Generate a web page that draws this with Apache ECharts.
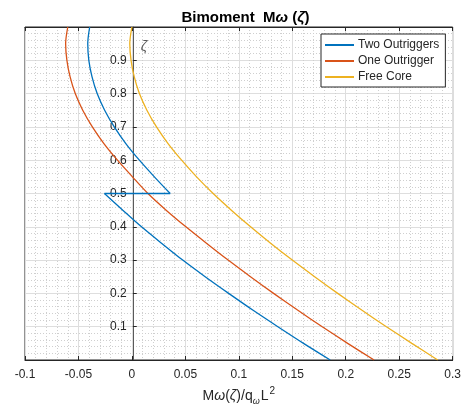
<!DOCTYPE html>
<html>
<head>
<meta charset="utf-8">
<script src="https://cdn.jsdelivr.net/npm/echarts@6/dist/echarts.min.js"></script>
<style>html,body{margin:0;padding:0;background:#fff;}#c{width:464px;height:412px;}</style>
</head>
<body>
<div id="c"></div>
<script>
// ---- data ----
const zetaAll   = [1.00,0.95,0.90,0.85,0.80,0.75,0.70,0.65,0.60,0.55,0.50,0.45,0.40,0.35,0.30,0.25,0.20,0.15,0.10,0.05,0.00];
const zetaUpper = [1.00,0.95,0.90,0.85,0.80,0.75,0.70,0.65,0.60,0.55,0.50];
const zetaLower = [0.50,0.45,0.40,0.35,0.30,0.25,0.20,0.15,0.10,0.05,0.00];
const twoOutriggersUpper = [-0.0395,-0.0413,-0.0403,-0.0373,-0.0325,-0.0255,-0.0165,-0.0057,0.0070,0.0210,0.0358];
const twoOutriggersLower = [-0.0257,-0.0085,0.0090,0.0280,0.0475,0.0685,0.0905,0.1130,0.1365,0.1605,0.1855];
const oneOutrigger = [-0.0600,-0.0620,-0.0608,-0.0578,-0.0530,-0.0460,-0.0370,-0.0262,-0.0135,0.0005,0.0150,0.0320,0.0505,0.0700,0.0900,0.1109,0.1325,0.1549,0.1780,0.2018,0.2265];
const freeCore = [0.0000,-0.0020,-0.0008,0.0022,0.0070,0.0140,0.0230,0.0338,0.0465,0.0605,0.0760,0.0930,0.1110,0.1300,0.1500,0.1709,0.1925,0.2149,0.2380,0.2618,0.2860];
const seriesNames = ['Two Outriggers','One Outrigger','Free Core'];
const xMin = -0.1, xMax = 0.3, xStep = 0.05;
const yMin = 0, yMax = 1, yStep = 0.1;
const zetaLabelPos = [0.0114, 0.941];

// ---- build ----
const pair = (xs, ys) => xs.map((v, i) => [v, ys[i]]);
const blueUpper = pair(twoOutriggersUpper, zetaUpper);
const blueLower = pair(twoOutriggersLower, zetaLower);
const blueJump = [blueUpper[blueUpper.length - 1], blueLower[0]];
const orangeData = pair(oneOutrigger, zetaAll);
const yellowData = pair(freeCore, zetaAll);

const FONT = '"Liberation Sans", Arial, Helvetica, sans-serif';
const dark = '#262626';
const major = '#dedede';
const minor = '#cfcfcf';
const BLUE = '#0072BD', ORANGE = '#D95319', YELLOW = '#EDB120';

const gridLeft = 25, gridTop = 27, gridW = 431, gridH = 333;
// y axis sits at x = 0 (MATLAB "origin" location): shift it inward from the left edge
const yAxisOffset = -((0 - xMin) / (xMax - xMin)) * gridW;

const lineBase = {type: 'line', symbol: 'none', lineStyle: {width: 1.3}};

const chart = echarts.init(document.getElementById('c'), null, {renderer: 'canvas'});
chart.setOption({
  animation: false,
  textStyle: {fontFamily: FONT},
  title: {
    text: '{b|Bimoment  M}{bi|ω}{b| (}{bi|ζ}{b|)}',
    left: gridLeft + gridW / 2, textAlign: 'center', top: 5,
    textStyle: {
      rich: {
        b: {fontFamily: FONT, fontSize: 15, fontWeight: 'bold', color: '#000'},
        bi: {fontFamily: FONT, fontSize: 15, fontWeight: 'bold', fontStyle: 'italic', color: '#000'}
      }
    }
  },
  grid: {left: gridLeft, top: gridTop, width: gridW, height: gridH, show: true, borderColor: dark, borderWidth: 1, containLabel: false},
  legend: {
    data: seriesNames,
    orient: 'vertical',
    left: 321, top: 34,
    padding: [5, 6, 4, 4],
    itemGap: 4,
    itemWidth: 29, itemHeight: 2,
    icon: 'rect',
    backgroundColor: '#fff',
    borderColor: dark, borderWidth: 1, borderRadius: 0,
    textStyle: {fontFamily: FONT, fontSize: 12, color: dark, padding: [0,0,0,-1]}
  },
  xAxis: [{
    type: 'value', min: xMin, max: xMax, interval: xStep, position: 'bottom',
    axisLine: {onZero: false, lineStyle: {color: dark, width: 1}},
    axisTick: {show: true, inside: true, length: 4, lineStyle: {color: dark}},
    axisLabel: {fontFamily: FONT, fontSize: 12, color: dark, margin: 9},
    splitLine: {show: true, lineStyle: {color: major, width: 1}},
    minorTick: {show: false, splitNumber: 5},
    minorSplitLine: {show: true, lineStyle: {color: minor, width: 1, type: [1, 2]}},
    name: '{n|M}{i|ω}{n|(}{i|ζ}{n|)/q}{sub|ω}{n|L}{sup|2}',
    nameLocation: 'middle', nameGap: 26,
    nameTextStyle: {
      rich: {
        n: {fontFamily: FONT, fontSize: 14, color: dark, verticalAlign: 'middle'},
        i: {fontFamily: FONT, fontSize: 14, fontStyle: 'italic', color: dark, verticalAlign: 'middle'},
        sub: {fontFamily: FONT, fontSize: 9, fontStyle: 'italic', color: dark, verticalAlign: 'bottom', padding: [10, 1, 0, 0]},
        sup: {fontFamily: FONT, fontSize: 10, color: dark, verticalAlign: 'top', padding: [0, 0, 10, 1]}
      }
    }
  }, {
    type: 'value', min: xMin, max: xMax, interval: xStep, position: 'top',
    axisLine: {onZero: false, lineStyle: {color: dark, width: 1}},
    axisTick: {show: true, inside: true, length: 4, lineStyle: {color: dark}},
    axisLabel: {show: false},
    splitLine: {show: false}
  }],
  yAxis: [{
    type: 'value', min: yMin, max: yMax, interval: yStep, position: 'left',
    offset: yAxisOffset,
    axisLine: {show: true, onZero: false, lineStyle: {color: '#5a5a5a', width: 1}},
    axisTick: {show: true, inside: true, length: 4, lineStyle: {color: dark}},
    axisLabel: {fontFamily: FONT, fontSize: 12, color: dark, margin: 6, showMinLabel: false, showMaxLabel: false},
    splitLine: {show: true, lineStyle: {color: major, width: 1}},
    minorTick: {show: false, splitNumber: 5},
    minorSplitLine: {show: true, lineStyle: {color: minor, width: 1, type: [1, 2]}}
  }],
  series: [
    Object.assign({}, lineBase, {name: seriesNames[0], data: blueUpper, color: BLUE, smooth: 0.3, z: 5}),
    Object.assign({}, lineBase, {name: seriesNames[0], data: blueJump, color: BLUE, z: 5}),
    Object.assign({}, lineBase, {name: seriesNames[0], data: blueLower, color: BLUE, smooth: 0.3, z: 5}),
    Object.assign({}, lineBase, {name: seriesNames[1], data: orangeData, color: ORANGE, smooth: 0.3, z: 4}),
    Object.assign({}, lineBase, {name: seriesNames[2], data: yellowData, color: YELLOW, smooth: 0.3, z: 3}),
    {name: 'zetaLabel', type: 'scatter', data: [zetaLabelPos], symbolSize: 0, silent: true,
     label: {show: true, position: 'inside', formatter: 'ζ', fontFamily: FONT, fontSize: 14, fontStyle: 'italic', color: '#333'}}
  ]
});
</script>
</body>
</html>
